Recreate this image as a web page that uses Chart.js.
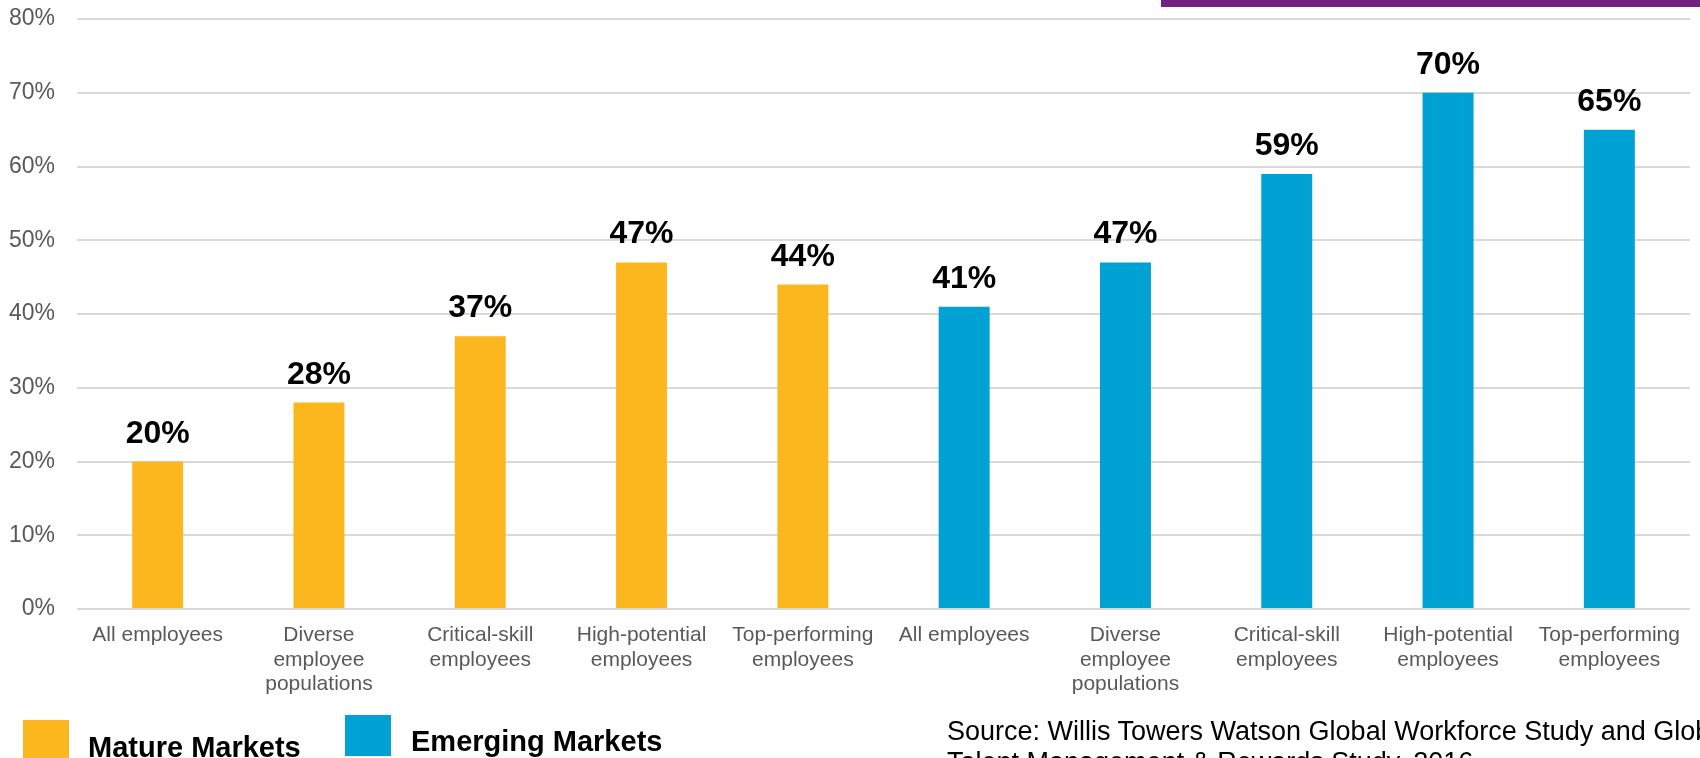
<!DOCTYPE html>
<html lang="en">
<head>
  <meta charset="UTF-8" />
  <title>Mature vs Emerging Markets</title>
  <script src="https://cdn.jsdelivr.net/npm/chart.js"></script>
  <style>
    html, body { margin: 0; padding: 0; background: #fff; overflow: hidden; }
    body { width: 1700px; height: 758px; position: relative; font-family: "Liberation Sans", Arial, sans-serif; }
    #wrap { position: absolute; left: 0; top: 0; width: 1700px; height: 758px; }
    .abs { position: absolute; white-space: nowrap; line-height: 1; }
    .swatch { position: absolute; width: 46px; }
  </style>
</head>
<body>

  <!-- chart -->
  <div id="wrap"><canvas id="chart"></canvas></div>

  <!-- purple strip at the top right -->
  <div class="abs" style="left:1161px; top:0; width:539px; height:7px; background:#71217f;"></div>

  <!-- legend -->
  <div class="swatch" style="left:23px; top:720px; height:38px; background:#fdb71e;"></div>
  <div class="abs" style="left:88px; top:733px; font-size:29px; font-weight:bold; color:#000;">Mature Markets</div>
  <div class="swatch" style="left:345px; top:715px; height:41px; background:#00a2d3;"></div>
  <div class="abs" style="left:411px; top:727px; font-size:29px; font-weight:bold; color:#000;">Emerging Markets</div>

  <!-- source -->
  <div class="abs" style="left:947px; top:716px; font-size:27px; line-height:31px; color:#000;">
    Source: Willis Towers Watson Global Workforce Study and Global<br>Talent Management &amp; Rewards Study, 2016
  </div>

  <script>
    const categories = [
      'All employees',
      ['Diverse', 'employee', 'populations'],
      ['Critical-skill', 'employees'],
      ['High-potential', 'employees'],
      ['Top-performing', 'employees'],
      'All employees',
      ['Diverse', 'employee', 'populations'],
      ['Critical-skill', 'employees'],
      ['High-potential', 'employees'],
      ['Top-performing', 'employees']
    ];
    const matureValues = [20, 28, 37, 47, 44];
    const emergingValues = [41, 47, 59, 70, 65];
    const yTicks = [0, 10, 20, 30, 40, 50, 60, 70, 80];

    const FONT = "'Liberation Sans', Arial, sans-serif";
    const blanks = matureValues.map(() => null);

    // percent labels above each bar
    const barLabels = {
      id: 'barLabels',
      afterDatasetsDraw(chart) {
        const ctx = chart.ctx;
        ctx.save();
        ctx.font = 'bold 32px ' + FONT;
        ctx.fillStyle = '#000';
        ctx.textAlign = 'center';
        ctx.textBaseline = 'alphabetic';
        chart.data.datasets.forEach((ds, i) => {
          chart.getDatasetMeta(i).data.forEach((bar, j) => {
            const v = ds.data[j];
            if (v == null) return;
            ctx.fillText(v + '%', bar.x, bar.y - 19);
          });
        });
        ctx.restore();
      }
    };

    new Chart(document.getElementById('chart'), {
      type: 'bar',
      data: {
        labels: categories,
        datasets: [
          {
            label: 'Mature Markets',
            data: matureValues.concat(blanks),
            backgroundColor: '#fdb71e'
          },
          {
            label: 'Emerging Markets',
            data: blanks.concat(emergingValues),
            backgroundColor: '#00a2d3'
          }
        ]
      },
      options: {
        responsive: true,
        maintainAspectRatio: false,
        animation: false,
        grouped: false,
        barPercentage: 0.316,
        categoryPercentage: 1,
        layout: { padding: { top: 19, right: 10, left: 0, bottom: 0 } },
        plugins: {
          legend: { display: false },
          tooltip: { enabled: false }
        },
        scales: {
          x: {
            grid: { display: false, drawTicks: false },
            border: { display: false },
            ticks: {
              color: '#595959',
              font: { family: FONT, size: 21, lineHeight: 1.17 },
              padding: 14,
              maxRotation: 0,
              autoSkip: false
            },
            afterFit(scale) { scale.height = 149; }
          },
          y: {
            min: 0,
            max: 80,
            afterBuildTicks(scale) { scale.ticks = yTicks.map(v => ({ value: v })); },
            grid: { color: '#d9d9d9', lineWidth: 2, drawTicks: false },
            border: { display: false },
            ticks: {
              color: '#595959',
              font: { family: FONT, size: 23 },
              padding: 22,
              callback: v => v + '%'
            },
            afterFit(scale) {
              scale.width = 77;
              // the tick padding is also added above the axis; keep only the layout padding
              scale.paddingTop = 0;
              scale.paddingBottom = 0;
            }
          }
        }
      },
      plugins: [barLabels]
    });
  </script>
</body>
</html>
